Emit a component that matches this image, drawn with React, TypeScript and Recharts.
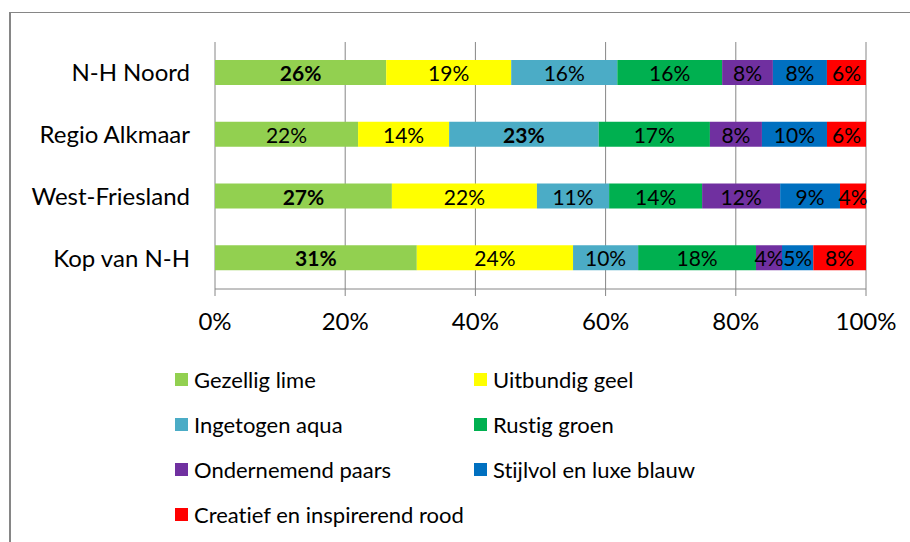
import { BarChart, Bar, XAxis, YAxis, CartesianGrid, LabelList } from 'recharts'

const regions = ['N-H Noord', 'Regio Alkmaar', 'West-Friesland', 'Kop van N-H']

const seriesNames = [
  'Gezellig lime',
  'Uitbundig geel',
  'Ingetogen aqua',
  'Rustig groen',
  'Ondernemend paars',
  'Stijlvol en luxe blauw',
  'Creatief en inspirerend rood',
]
const seriesColors = ['#92D050', '#FFFF00', '#4BACC6', '#00B050', '#7030A0', '#0070C0', '#FF0000']

// shares in %, per region (same order as regions)
const lime = [26.3, 22.0, 27.2, 31.0]
const geel = [19.2, 14.0, 22.3, 24.0]
const aqua = [16.3, 23.0, 11.1, 10.0]
const groen = [16.1, 17.1, 14.3, 18.1]
const paars = [7.8, 8.0, 12.0, 4.0]
const blauw = [8.3, 10.0, 9.2, 4.8]
const rood = [6.0, 6.0, 4.0, 8.1]

const seriesValues = [lime, geel, aqua, groen, paars, blauw, rood]
const xTicks = [0, 0.2, 0.4, 0.6, 0.8, 1]
const bandTicks = [0, 1, 2, 3, 4]

const FONT = 'Lato, "Open Sans", sans-serif'
const AXIS_GRAY = '#868686'

const data = regions.map((name, i) => {
  const row: Record<string, string | number> = { name }
  seriesValues.forEach((vals, s) => {
    row['s' + s] = vals[i]
  })
  return row
})

function rowMax(i: number) {
  return Math.max(...seriesValues.map((v) => v[i]))
}

function makeLabel(s: number) {
  return (props: any) => {
    const { x, y, width, height, index } = props
    const v = seriesValues[s][index]
    const bold = v === rowMax(index)
    return (
      <text
        x={Number(x) + Number(width) / 2}
        y={Number(y) + Number(height) / 2}
        textAnchor="middle"
        dominantBaseline="central"
        fontFamily={FONT}
        fontSize={21}
        fontWeight={bold ? 700 : 400}
        fill="#000"
      >
        {Math.round(v)}%
      </text>
    )
  }
}

export default function App() {
  return (
    <div
      style={{
        position: 'absolute',
        left: 0,
        top: 0,
        width: 910,
        height: 542,
        background: '#fff',
        overflow: 'hidden',
        fontVariantLigatures: 'none',
      }}
    >
      {/* outer chart frame, cut off on the right and bottom */}
      <div
        style={{
          position: 'absolute',
          left: 9,
          top: 12,
          width: 920,
          height: 560,
          borderTop: `1px solid ${AXIS_GRAY}`,
          borderLeft: `2px solid ${AXIS_GRAY}`,
        }}
      />
      <div style={{ position: 'absolute', left: 0, top: 0 }}>
        <BarChart
          width={910}
          height={542}
          data={data}
          layout="vertical"
          stackOffset="expand"
          margin={{ top: 42, right: 44, left: 15, bottom: 213 }}
        >
          <CartesianGrid horizontal={false} stroke={AXIS_GRAY} yAxisId="cat" />
          <YAxis
            yAxisId="band"
            type="number"
            domain={[0, 4]}
            ticks={bandTicks}
            tick={false}
            width={0}
            tickSize={8}
            axisLine={{ stroke: AXIS_GRAY }}
            tickLine={{ stroke: AXIS_GRAY }}
          />
          <YAxis
            yAxisId="cat"
            type="category"
            dataKey="name"
            width={200}
            axisLine={false}
            tickLine={false}
            tickSize={0}
            tickMargin={25}
            tick={{ fill: '#000', fontSize: 24, fontFamily: FONT }}
          />
          <XAxis
            type="number"
            domain={[0, 1]}
            ticks={xTicks}
            tickFormatter={(v: number) => `${Math.round(v * 100)}%`}
            height={40}
            tickSize={7}
            tickMargin={17}
            axisLine={{ stroke: AXIS_GRAY }}
            tickLine={{ stroke: AXIS_GRAY }}
            tick={{ fill: '#000', fontSize: 24, fontFamily: FONT }}
          />
          {seriesNames.map((n, s) => (
            <Bar
              key={n}
              yAxisId="cat"
              dataKey={'s' + s}
              name={n}
              stackId="a"
              fill={seriesColors[s]}
              barSize={25}
              isAnimationActive={false}
            >
              <LabelList content={makeLabel(s)} />
            </Bar>
          ))}
        </BarChart>
      </div>
      {/* legend, two columns */}
      {seriesNames.map((n, s) => (
        <div
          key={n}
          style={{
            position: 'absolute',
            left: s % 2 === 0 ? 175 : 474,
            top: 379 + Math.floor(s / 2) * 45 - 15,
            height: 30,
            display: 'flex',
            alignItems: 'center',
            fontFamily: FONT,
            fontSize: 22,
            color: '#000',
            whiteSpace: 'nowrap',
          }}
        >
          <span style={{ width: 13, height: 13, background: seriesColors[s], marginRight: 6, display: 'inline-block' }} />
          {n}
        </div>
      ))}
    </div>
  )
}
